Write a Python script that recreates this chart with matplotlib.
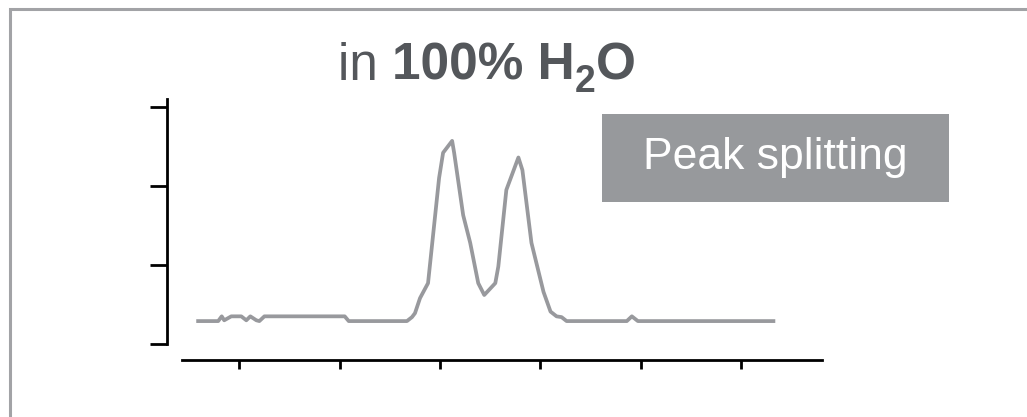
'''
Chromatogram trace in 100% water showing the split peak.
'''
import matplotlib.pyplot as plt
from matplotlib.patches import Rectangle

plt.rcParams['font.family'] = ['Liberation Sans', 'DejaVu Sans']

# Trace values (retention, signal) in arbitrary units
retention = [-0.41, -0.21, -0.175, -0.15, -0.08, 0.02, 0.07, 0.11, 0.17, 0.20,
             0.25, 1.05, 1.09, 1.67, 1.72, 1.75, 1.80, 1.88, 1.99, 2.03,
             2.12, 2.14, 2.23, 2.30, 2.38, 2.44, 2.55, 2.58, 2.66, 2.78,
             2.82, 2.91, 3.03, 3.10, 3.16, 3.21, 3.26, 3.86, 3.91, 3.97, 5.32]
signal = [0.29, 0.29, 0.35, 0.30, 0.35, 0.35, 0.30, 0.35, 0.30, 0.29,
          0.35, 0.35, 0.29, 0.29, 0.34, 0.39, 0.58, 0.77, 2.10, 2.42,
          2.57, 2.42, 1.63, 1.28, 0.77, 0.62, 0.77, 0.98, 1.95, 2.36,
          2.20, 1.28, 0.66, 0.41, 0.35, 0.34, 0.29, 0.29, 0.35, 0.29, 0.29]

x_ticks = [0, 1, 2, 3, 4, 5]
y_ticks = [0, 1, 2, 3]

# title pieces: (text, weight, size, baseline drop in px)
title_parts = [('in ', 'normal', 37, 0),
               ('100% H', 'bold', 37, 0),
               ('2', 'bold', 27, 12),
               ('O', 'bold', 37, 0)]
badge_text = 'Peak splitting'

W, H = 1027, 417
fig = plt.figure(figsize=(W / 100, H / 100), dpi=100)

# panel frame (only top and left edges fall inside the image)
fig.patches.append(Rectangle((10 / W, -0.2), 1.2, 1.2 + (H - 9) / H - 1.0,
                             transform=fig.transFigure, fill=False,
                             edgecolor='#a2a3a6', linewidth=2.2))

ax = fig.add_axes([167 / W, (H - 344) / H, (822 - 167) / W, (344 - 99) / H])
ax.plot(retention, signal, color='#98999d', linewidth=2.7, clip_on=False)

ax.set_xlim(-0.72, 5.804)
ax.set_ylim(0, 3.10)
ax.set_xticks(x_ticks)
ax.set_yticks(y_ticks)
ax.tick_params(labelbottom=False, labelleft=False, colors='black')
ax.tick_params(axis='y', length=12.2, width=2.0)
ax.tick_params(axis='x', length=6.5, width=2.0)

for side in ['top', 'right']:
    ax.spines[side].set_visible(False)
ax.spines['left'].set_linewidth(2.0)
ax.spines['bottom'].set_linewidth(2.0)
ax.spines['bottom'].set_position(('outward', 11.5))
ax.spines['bottom'].set_bounds(-0.571, 5.804)

# title built piece by piece so the subscript sits low like in print
renderer = fig.canvas.get_renderer()
x_px = 338
for txt, weight, size, drop in title_parts:
    t = fig.text(x_px / W, (H - 80 - drop) / H, txt, ha='left', va='baseline',
                 fontsize=size, fontweight=weight, color='#54575b')
    x_px = t.get_window_extent(renderer).x1

ax_badge = fig.add_axes([602 / W, (H - 202) / H, (949 - 602) / W, (202 - 114) / H])
ax_badge.set_facecolor('#97999c')
ax_badge.set_xticks([])
ax_badge.set_yticks([])
for s in ax_badge.spines.values():
    s.set_visible(False)
ax_badge.text(0.5, 0.5, badge_text, ha='center', va='center',
              fontsize=32, color='white', transform=ax_badge.transAxes)

fig.savefig('out.png', dpi=100)
